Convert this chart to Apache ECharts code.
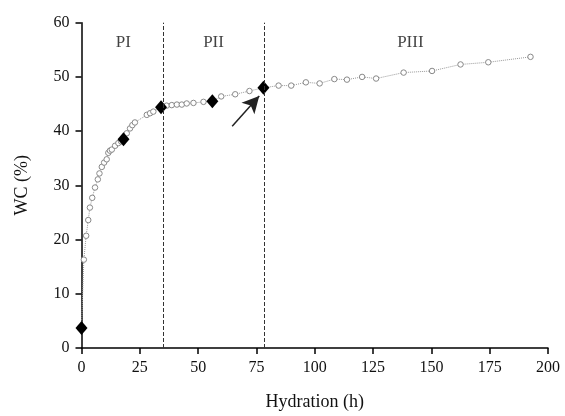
<!DOCTYPE html>
<html><head><meta charset="utf-8">
<script src="https://cdn.jsdelivr.net/npm/echarts@6/dist/echarts.min.js"></script>
<style>html,body{margin:0;padding:0;background:#fff}#c{width:565px;height:416px}</style>
</head><body><div id="c"></div>
<script>
const hours = [0,1,2,2.9,3.6,4.6,5.8,7,7.7,8.7,9.7,10.8,11.5,12.2,13,14.4,15.8,17,18,19.4,20.8,21.8,22.9,28,29.4,30.8,34.1,36.5,38.7,40.9,43,45.1,48,52.3,56.1,59.9,65.9,72,78,84.5,89.9,96.2,102.1,108.4,113.8,120.3,126.3,138.1,150.3,162.5,174.4,192.5];
const wc = [3.7,16.3,20.7,23.6,25.9,27.7,29.6,31.1,32.2,33.4,34.2,34.8,36.0,36.4,36.6,37.3,37.8,38.1,38.5,39.6,40.5,41.1,41.6,43.0,43.3,43.6,44.4,44.7,44.8,44.9,44.9,45.1,45.2,45.4,45.5,46.4,46.8,47.4,48.0,48.4,48.4,49.0,48.8,49.6,49.5,50.0,49.7,50.8,51.1,52.3,52.7,53.7];
const diamondHours = [0,18,34.1,56.1,78];
const diamondWC = [3.7,38.5,44.4,45.5,48.0];
const phaseBounds = [35,78.5];
const phaseLabels = ['PI','PII','PIII'];
const phaseLabelX = [17.9,56.6,141];
const phaseLabelY = 56.3;
const arrowFrom = [64.6,40.9];
const arrowTo = [76.2,46.5];
const xTicks = [0,25,50,75,100,125,150,175,200];
const yTicks = [0,10,20,30,40,50,60];

const font = 'Liberation Serif';
const chart = echarts.init(document.getElementById('c'));
chart.setOption({
  animation:false,
  grid:{left:81.5,right:17,top:22.7,bottom:67.7},
  xAxis:{type:'value',min:xTicks[0],max:xTicks[xTicks.length-1],interval:25,
    name:'Hydration (h)',nameLocation:'middle',nameGap:45,
    nameTextStyle:{fontFamily:font,fontSize:18,color:'#111'},
    axisLine:{lineStyle:{color:'#000',width:1.5}},
    axisTick:{show:true,length:6,lineStyle:{color:'#000',width:1.5}},
    axisLabel:{fontFamily:font,fontSize:16,color:'#111',margin:12},
    splitLine:{show:false}},
  yAxis:{type:'value',min:yTicks[0],max:yTicks[yTicks.length-1],interval:10,
    name:'WC (%)',nameLocation:'middle',nameGap:50,nameRotate:90,
    nameTextStyle:{fontFamily:font,fontSize:18,color:'#111'},
    axisLine:{show:true,lineStyle:{color:'#000',width:1.5}},
    axisTick:{show:true,length:6,lineStyle:{color:'#000',width:1.5}},
    axisLabel:{fontFamily:font,fontSize:16,color:'#111',margin:12},
    splitLine:{show:false}},
  series:[
    {type:'line',data:hours.map((h,i)=>[h,wc[i]]),
     symbol:'circle',symbolSize:5.5,
     itemStyle:{color:'#fff',borderColor:'#888',borderWidth:1},
     lineStyle:{color:'#999',width:1,type:'dotted'},
     z:2,
     markLine:{silent:true,symbol:'none',label:{show:false},
       lineStyle:{color:'#333',type:'dashed',width:1},
       data:phaseBounds.map(b=>[{coord:[b,0]},{coord:[b,60]}])}
    },
    {type:'scatter',data:diamondHours.map((h,i)=>[h,diamondWC[i]]),
     symbol:'diamond',symbolSize:[12,14],itemStyle:{color:'#000',opacity:1},z:4,
     markLine:{silent:true,symbol:['none','arrow'],symbolSize:[13,17],label:{show:false},
       lineStyle:{color:'#222',type:'solid',width:1.5},
       data:[[{coord:arrowFrom},{coord:arrowTo}]]}
    },
    {type:'scatter',data:phaseLabelX.map((x,i)=>[x,phaseLabelY,phaseLabels[i]]),
     symbolSize:0,silent:true,
     label:{show:true,position:'inside',formatter:p=>p.data[2],fontFamily:font,fontSize:17,color:'#111'}
    }
  ]
});
</script></body></html>
